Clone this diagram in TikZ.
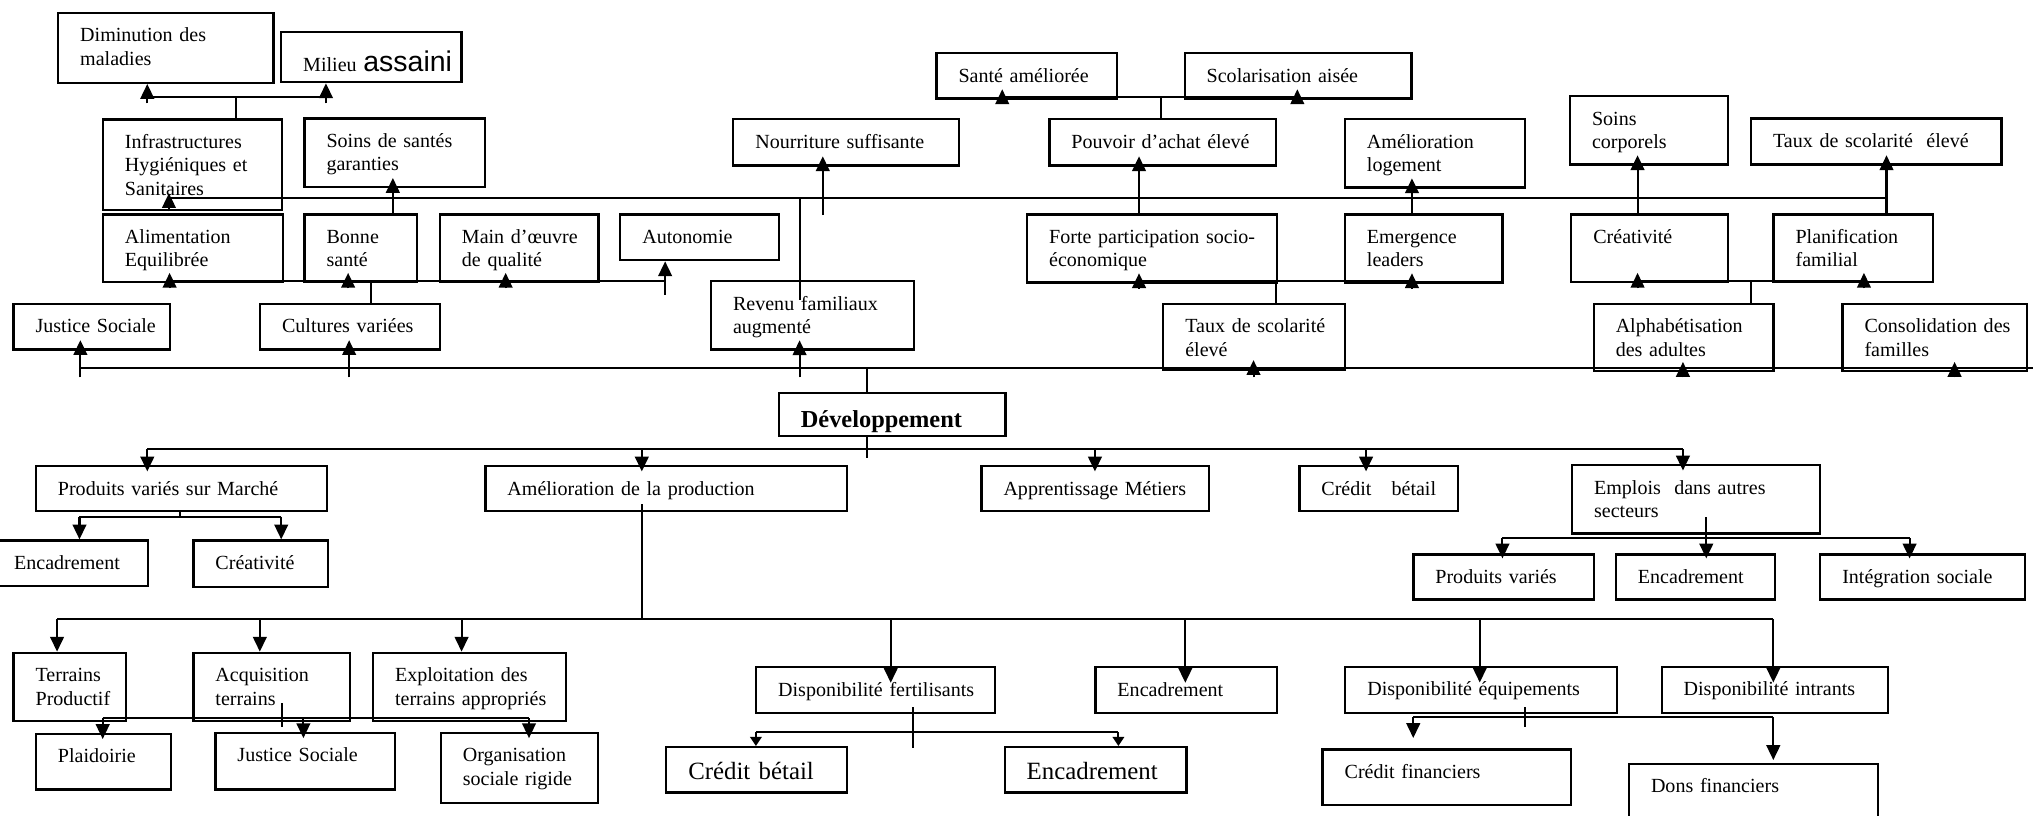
\documentclass[tikz,border=0pt]{standalone}
\usepackage{fontspec}
\setmainfont{Liberation Serif}
\newfontfamily\milieufont{Liberation Sans}
\usepackage{tikz}
\usetikzlibrary{arrows.meta}
\tikzset{
	block/.style 2 args= {
		draw,
		rectangle,
		line width=1pt,
		anchor=north west,
		inner sep=0pt,
		minimum width=#1*0.02cm,
		text width=#1*0.02cm,
		text height=0.45cm,
		text depth=#2*0.02cm-0.45cm,
		align=left,
		font=\fontsize{8.8}{10.2}\selectfont,
		execute at begin node={\leftskip=0.34cm\rightskip=-3cm plus 1fil}
	},
	big/.style= {
		font=\fontsize{10.9}{12}\selectfont,
		text height=0.5cm,
		text depth=0.2cm
	},
	link/.style= {
		line width=0.9pt
	},
	up/.style= {
		link,
		-{Triangle[length=6.5pt, width=6pt]},
		shorten >=-0.16cm
	},
	down/.style= {
		link,
		-{Triangle[length=6.5pt, width=6pt]},
		shorten >=-0.1cm
	}
}

\begin{document}
\begin{tikzpicture}[x=0.02cm, y=-0.02cm]
	\useasboundingbox (0,0) rectangle (1568,629);

	\node (dimin)[block={166}{54}] at (44,9) {Diminution des\\maladies};
	\node (milieu)[block={139}{38.5}, text height=0.6cm, text depth=0.17cm] at (216,24) {Milieu {\milieufont\fontsize{12.5}{12.5}\selectfont assaini}};
	\node (sante)[block={139.4}{35.2}] at (721.4,39.9) {Santé améliorée};
	\node (scol)[block={175}{35.2}] at (912.8,39.9) {Scolarisation aisée};
	\node (soinsc)[block={122}{52.7}] at (1210,73.3) {Soins\\corporels};
	\node (infra)[block={138.3}{70}] at (78.5,91.3) {Infrastructures\\Hygiéniques et\\Sanitaires};
	\node (soins)[block={139}{53}] at (234,90.5) {Soins de santés\\garanties};
	\node (nour)[block={174}{36}] at (564.7,90.8) {Nourriture suffisante};
	\node (pouv)[block={175}{36}] at (808.5,90.8) {Pouvoir d’achat élevé};
	\node (amelog)[block={139}{53}] at (1036.4,90.8) {Amélioration\\logement};
	\node (tauxB)[block={193.2}{35.5}] at (1349.6,90.5) {Taux de scolarité\ \ élevé};
	\node (alim)[block={139}{52.2}] at (78.5,164.5) {Alimentation\\Equilibrée};
	\node (bonne)[block={87}{52.2}] at (234,164.5) {Bonne\\santé};
	\node (maino)[block={122.3}{52.2}] at (338.4,164.5) {Main d’œuvre\\de qualité};
	\node (auto)[block={122.7}{35.3}] at (477.5,164.5) {Autonomie};
	\node (forte)[block={192.7}{52.5}] at (791.3,164.5) {Forte participation socio-\\économique};
	\node (emerg)[block={121.6}{52.5}] at (1036.4,164.5) {Emergence\\leaders};
	\node (creat)[block={121}{52.2}] at (1211,164.5) {Créativité};
	\node (planif)[block={123}{52.2}] at (1367,164.5) {Planification\\familial};
	\node (rev)[block={156.7}{52.7}] at (547.5,216) {Revenu familiaux\\augmenté};
	\node (just)[block={120.4}{35.2}] at (9.6,233.4) {Justice Sociale};
	\node (cult)[block={138.7}{35.2}] at (199.7,233.4) {Cultures variées};
	\node (tauxA)[block={140}{50.6}] at (896.3,233.4) {Taux de scolarité\\élevé};
	\node (alpha)[block={138.7}{52}] at (1228.3,233.4) {Alphabétisation\\des adultes};
	\node (conso)[block={142}{52}] at (1420.2,233.4) {Consolidation des\\familles};

	\node (dev)[block={174.8}{33.5}, font=\fontsize{10.7}{12}\selectfont\bfseries, text height=0.54cm, text depth=0.13cm] at (599.8,302) {Développement};

	\node (prod)[block={224.5}{34.7}] at (26.8,358.6) {Produits variés sur Marché};
	\node (amel)[block={279}{34.7}] at (373.5,358.6) {Amélioration de la production};
	\node (appr)[block={175.3}{34.7}] at (756.1,358.6) {Apprentissage Métiers};
	\node (cred)[block={122.2}{34.7}] at (1001.3,358.6) {Crédit\ \ \ bétail};
	\node (empl)[block={191.4}{52.7}] at (1211.6,357.9) {Emplois\ \ dans autres\\secteurs};
	\node (enc1)[block={120}{35.2}] at (-7,416) {Encadrement};
	\node (creat1)[block={103.7}{35.6}] at (148.3,416) {Créativité};
	\node (prodv)[block={139.4}{34.8}] at (1089.2,426.7) {Produits variés};
	\node (enc3)[block={122.6}{34.8}] at (1245.4,426.7) {Encadrement};
	\node (integ)[block={158.2}{34.8}] at (1403,426.7) {Intégration sociale};
	\node (terr)[block={86.8}{52.7}] at (9.6,502.6) {Terrains\\Productif};
	\node (acq)[block={120.9}{52.7}] at (148.3,502.6) {Acquisition\\terrains};
	\node (expl)[block={148.7}{52.7}] at (286.8,502.6) {Exploitation des\\terrains appropriés};
	\node (dfert)[block={184.2}{35.3}] at (582.3,513.6) {Disponibilité fertilisants};
	\node (enc2)[block={140}{35.3}] at (844,513.6) {Encadrement};
	\node (dequip)[block={209.4}{35.5}] at (1036.7,513.4) {Disponibilité équipements};
	\node (dintr)[block={174.7}{35.5}] at (1280.7,513.4) {Disponibilité intrants};
	\node (plaid)[block={104}{43}] at (26.8,565) {Plaidoirie};
	\node (just2)[block={138.7}{43.7}] at (165.3,564.3) {Justice Sociale};
	\node (org)[block={121.5}{54}] at (339.1,564.3) {Organisation\\sociale rigide};
	\node (credb)[block={139.5}{35.2}, big] at (513,575.4) {Crédit bétail};
	\node (encb)[block={140.2}{35.2}, big] at (774,575.4) {Encadrement};
	\node (credf)[block={191.7}{43}] at (1019.2,577.2) {Crédit financiers};
	\node (dons)[block={192.1}{60}] at (1255.5,588.2) {Dons financiers};

	\coordinate (b0w) at (62,284);
	\coordinate (b0e) at (1570,284);
	\coordinate (devt) at (669,284);
	\coordinate (devb) at (669,353.5);
	\draw[link] (b0w) -- (b0e);
	\draw[link] (dev.north -| devt) -- (devt);
	\draw[link] (dev.south -| devb) -- (devb);
	\foreach \n/\x in {just/62, cult/269.3, rev/616.7, tauxA/966.8, alpha/1298, conso/1507.5}
	{
		\coordinate (t\n) at (\x,291);
		\draw[up] (t\n) -- (t\n |- \n.south);
	}

	\coordinate (b2w) at (130.3,153);
	\coordinate (b2e) at (1455,153);
	\coordinate (revt) at (616.7,153);
	\coordinate (tnour) at (634.6,166);
	\draw[link] (b2w) -- (b2e);
	\draw[link, shorten <=-0.3cm] (rev.north -| revt) -- (revt);
	\draw[up, shorten >=-0.08cm] (infra.south -| b2w) -- (b2w);
	\draw[up] (tnour) -- (tnour |- nour.south);

	\foreach \src/\dst/\x in {bonne/soins/303, forte/pouv/878.5, emerg/amelog/1089, creat/soinsc/1263, planif/tauxB/1455}
	{
		\coordinate (x\src) at (\x,0);
		\draw[up] (x\src |- \src.north) -- (x\src |- \dst.south);
	}

	\coordinate (b3w) at (130.8,216.5);
	\coordinate (b3e) at (513,216.5);
	\coordinate (cultt) at (285.8,216.5);
	\draw[link] (b3w) -- (b3e);
	\draw[link] (cult.north -| cultt) -- (cultt);
	\foreach \n/\x in {alim/130.8, bonne/268.5, maino/390}
	{
		\coordinate (t\n) at (\x,222.4);
		\draw[up] (t\n) -- (t\n |- \n.south);
	}
	\coordinate (tauto) at (513,227.5);
	\draw[up, shorten >=0pt] (tauto) -- (tauto |- auto.south);

	\coordinate (b3bw) at (878.5,216.5);
	\coordinate (b3be) at (1089,216.5);
	\coordinate (tauxAt) at (984,216.5);
	\draw[link] (b3bw) -- (b3be);
	\draw[link] (tauxA.north -| tauxAt) -- (tauxAt);
	\foreach \n/\x in {forte/878.5, emerg/1089}
	{
		\coordinate (t\n) at (\x,222.4);
		\draw[up] (t\n) -- (t\n |- \n.south);
	}

	\coordinate (b3cw) at (1263,216.5);
	\coordinate (b3ce) at (1437.6,216.5);
	\coordinate (alphat) at (1350.3,216.5);
	\draw[link] (b3cw) -- (b3ce);
	\draw[link] (alpha.north -| alphat) -- (alphat);
	\foreach \n/\x in {creat/1263, planif/1437.6}
	{
		\coordinate (t\n) at (\x,222.4);
		\draw[up] (t\n) -- (t\n |- \n.south);
	}

	\coordinate (b5w) at (113.6,74.6);
	\coordinate (b5e) at (251.4,74.6);
	\coordinate (infrat) at (181.8,74.6);
	\draw[link] (b5w) -- (b5e);
	\draw[link] (infra.north -| infrat) -- (infrat);
	\foreach \n/\x in {dimin/113.6, milieu/251.4}
	{
		\coordinate (t\n) at (\x,79.7);
		\draw[up, shorten >=0pt] (t\n) -- (t\n |- \n.south);
	}

	\coordinate (b4w) at (773,74.6);
	\coordinate (b4e) at (1000.6,74.6);
	\coordinate (pouvt) at (895.6,74.6);
	\draw[link] (b4w) -- (b4e);
	\draw[link] (pouv.north -| pouvt) -- (pouvt);
	\foreach \n/\x in {sante/773, scol/1000.6}
	{
		\coordinate (t\n) at (\x,79.7);
		\draw[up] (t\n) -- (t\n |- \n.south);
	}

	\coordinate (b1w) at (113.6,346.5);
	\coordinate (b1e) at (1298,346.5);
	\draw[link] (b1w) -- (b1e);
	\foreach \n/\x in {prod/113.6, amel/495, appr/844.5, cred/1053.6, empl/1298}
	{
		\coordinate (j\n) at (\x,346.5);
		\draw[down] (j\n) -- (j\n |- \n.north);
	}

	\coordinate (b6w) at (61.3,398.5);
	\coordinate (b6e) at (216.9,398.5);
	\coordinate (prodb) at (139,398.5);
	\draw[link] (b6w) -- (b6e);
	\draw[link] (prod.south -| prodb) -- (prodb);
	\foreach \n/\x in {enc1/61.3, creat1/216.9}
	{
		\coordinate (j\n) at (\x,398.5);
		\draw[down, shorten >=0pt] (j\n) -- (j\n |- \n.north);
	}

	\coordinate (b7w) at (44,477.7);
	\coordinate (b7e) at (1367.7,477.7);
	\coordinate (amelb) at (495,477.7);
	\draw[link] (b7w) -- (b7e);
	\draw[link, shorten <=-0.12cm] (amel.south -| amelb) -- (amelb);
	\foreach \n/\x in {terr/44, acq/200.4, expl/356}
	{
		\coordinate (j\n) at (\x,477.7);
		\draw[down, shorten >=0pt] (j\n) -- (j\n |- \n.north);
	}
	\foreach \n/\x in {dfert/687, enc2/914.2, dequip/1141.3, dintr/1367.7}
	{
		\coordinate (j\n) at (\x,477.7);
		\draw[down, shorten >=-0.26cm] (j\n) -- (j\n |- \n.north);
	}

	\coordinate (b8w) at (79.2,554);
	\coordinate (b8e) at (408,554);
	\coordinate (acqb) at (217.6,560.5);
	\draw[link] (b8w) -- (b8e);
	\draw[link, shorten <=-0.29cm] (acq.south -| acqb) -- (acqb);
	\foreach \n/\x in {plaid/79.2, just2/234, org/408}
	{
		\coordinate (j\n) at (\x,554);
		\draw[down] (j\n) -- (j\n |- \n.north);
	}

	\coordinate (b9w) at (583,564.8);
	\coordinate (b9e) at (862.6,564.8);
	\coordinate (dfertb) at (704.2,577.2);
	\draw[link] (b9w) -- (b9e);
	\draw[link, shorten <=-0.1cm] (dfert.south -| dfertb) -- (dfertb);
	\foreach \n/\x in {credb/583, encb/862.6}
	{
		\coordinate (j\n) at (\x,564.8);
		\draw[link, -{Triangle[length=4pt, width=5pt]}] (j\n) -- (j\n |- \n.north);
	}

	\coordinate (b10w) at (1090,553.2);
	\coordinate (b10e) at (1367.7,553.2);
	\coordinate (dequipb) at (1176.2,560.5);
	\draw[link] (b10w) -- (b10e);
	\draw[link, shorten <=-0.1cm] (dequip.south -| dequipb) -- (dequipb);
	\draw[down, shorten >=0.16cm] (b10w) -- (b10w |- credf.north);
	\draw[down, shorten >=0.04cm] (b10e) -- (b10e |- dons.north);

	\coordinate (b11w) at (1158.8,415.2);
	\coordinate (b11e) at (1472.8,415.2);
	\coordinate (emplb) at (1316,415.2);
	\draw[link] (b11w) -- (b11e);
	\draw[link, shorten <=-0.27cm] (empl.south -| emplb) -- (emplb);
	\foreach \n/\x in {prodv/1158.8, enc3/1316, integ/1472.8}
	{
		\coordinate (j\n) at (\x,415.2);
		\draw[down, shorten >=-0.08cm] (j\n) -- (j\n |- \n.north);
	}
\end{tikzpicture}
\end{document}
